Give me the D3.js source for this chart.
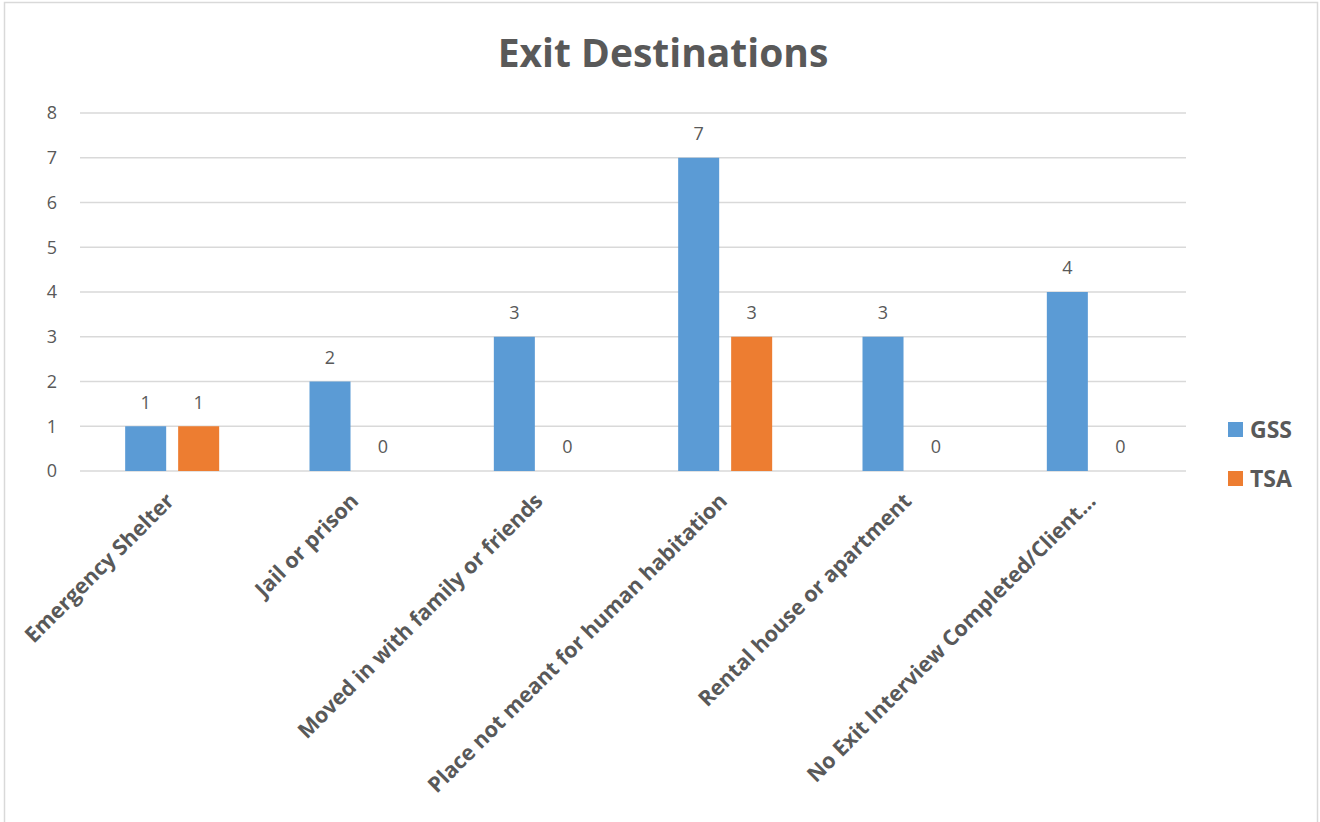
<!DOCTYPE html>
<html>
<head>
<meta charset="utf-8">
<script src="https://cdn.jsdelivr.net/npm/d3@7"></script>
<style>
  body { margin: 0; background: #fff; }
  text { font-family: "Open Sans", "Liberation Sans", sans-serif; }
</style>
</head>
<body>
<svg width="1320" height="822"></svg>
<script>
// Chart data
const categories = [
    "Emergency Shelter",
    "Jail or prison",
    "Moved in with family or friends",
    "Place not meant for human habitation",
    "Rental house or apartment",
    "No Exit Interview Completed/Client..."
];
const seriesNames = ["GSS", "TSA"];
const gssValues = [1, 2, 3, 7, 3, 4];
const tsaValues = [1, 0, 0, 3, 0, 0];
const yTicks = [0, 1, 2, 3, 4, 5, 6, 7, 8];

const colors = { GSS: "#5B9BD5", TSA: "#ED7D31" };
const textColor = "#595959";

const svg = d3.select("svg");

// outer chart border
svg.append("rect")
    .attr("x", 4.5).attr("y", 2.5)
    .attr("width", 1313).attr("height", 830)
    .attr("fill", "none")
    .attr("stroke", "#d9d9d9")
    .attr("stroke-width", 1.5);

const plot = { left: 80, right: 1186, top: 113, bottom: 471 };

const x = d3.scaleBand()
    .domain(categories)
    .range([plot.left, plot.right]);

const xInner = d3.scaleBand()
    .domain(seriesNames)
    .range([0, 94])
    .paddingInner(0.226);

const y = d3.scaleLinear()
    .domain([0, 8])
    .range([plot.bottom, plot.top]);

// gridlines
svg.append("g")
    .selectAll("line")
    .data(yTicks)
    .enter()
    .append("line")
    .attr("x1", plot.left)
    .attr("x2", plot.right)
    .attr("y1", d => y(d))
    .attr("y2", d => y(d))
    .attr("stroke", "#d9d9d9")
    .attr("stroke-width", 1.3);

// y tick labels
svg.append("g")
    .selectAll("text")
    .data(yTicks)
    .enter()
    .append("text")
    .attr("x", 57)
    .attr("y", d => y(d))
    .attr("dy", "0.35em")
    .attr("text-anchor", "end")
    .style("font-size", "18px")
    .style("fill", textColor)
    .text(d => d);

// bars
const rows = categories.map((c, i) => ({ cat: c, GSS: gssValues[i], TSA: tsaValues[i] }));

const groups = svg.append("g")
    .selectAll("g")
    .data(rows)
    .enter()
    .append("g")
    .attr("transform", d => `translate(${x(d.cat) + x.bandwidth() / 2 - 47},0)`);

groups.selectAll("rect")
    .data(d => seriesNames.map(s => ({ s, v: d[s] })))
    .enter()
    .append("rect")
    .attr("x", d => xInner(d.s))
    .attr("width", xInner.bandwidth())
    .attr("y", d => y(d.v))
    .attr("height", d => y(0) - y(d.v))
    .attr("fill", d => colors[d.s]);

// value labels
groups.selectAll("text")
    .data(d => seriesNames.map(s => ({ s, v: d[s] })))
    .enter()
    .append("text")
    .attr("x", d => xInner(d.s) + xInner.bandwidth() / 2)
    .attr("y", d => y(d.v) - 24)
    .attr("dy", "0.35em")
    .attr("text-anchor", "middle")
    .style("font-size", "18px")
    .style("fill", textColor)
    .text(d => d.v);

// category labels, rotated
svg.append("g")
    .selectAll("text")
    .data(categories)
    .enter()
    .append("text")
    .attr("transform", d => `translate(${x(d) + x.bandwidth() / 2 - 2},${plot.bottom + 26}) rotate(-45)`)
    .attr("text-anchor", "end")
    .attr("dy", "0.35em")
    .style("font-size", "21.5px")
    .style("font-weight", "bold")
    .style("fill", textColor)
    .text(d => d);

// title
svg.append("text")
    .attr("x", 663)
    .attr("y", 53)
    .attr("dy", "0.35em")
    .attr("text-anchor", "middle")
    .style("font-size", "39px")
    .style("font-weight", "bold")
    .style("fill", textColor)
    .text("Exit Destinations");

// legend
const legend = svg.append("g")
    .selectAll("g")
    .data(seriesNames)
    .enter()
    .append("g")
    .attr("transform", (d, i) => `translate(1228,${422 + i * 49})`);

legend.append("rect")
    .attr("width", 15)
    .attr("height", 15)
    .attr("fill", d => colors[d]);

legend.append("text")
    .attr("x", 22)
    .attr("y", 8)
    .attr("dy", "0.35em")
    .style("font-size", "23px")
    .style("font-weight", "bold")
    .style("fill", textColor)
    .text(d => d);
</script>
</body>
</html>
